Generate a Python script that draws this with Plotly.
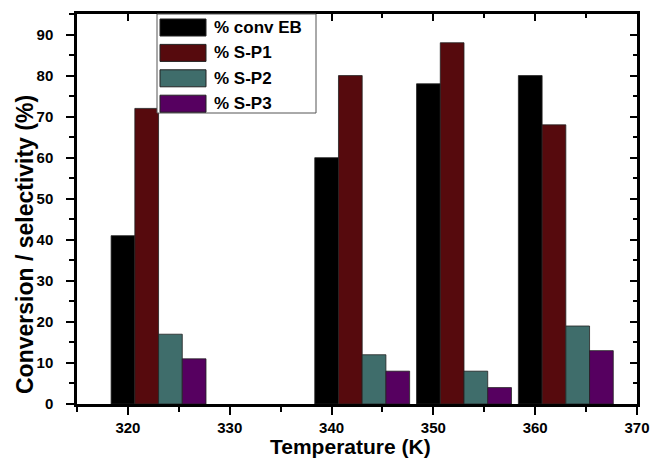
import plotly.graph_objects as go

temperatures = [320, 340, 350, 360]
series_names = ["% conv EB", "% S-P1", "% S-P2", "% S-P3"]
conv_eb = [41, 60, 78, 80]
s_p1 = [72, 80, 88, 68]
s_p2 = [17, 12, 8, 19]
s_p3 = [11, 8, 4, 13]
series_values = [conv_eb, s_p1, s_p2, s_p3]
colors = ["#000000", "#560a0d", "#3f6d6b", "#560060"]

x_ticks = [320, 330, 340, 350, 360, 370]
y_ticks = [0, 10, 20, 30, 40, 50, 60, 70, 80, 90]

FONT = "Liberation Sans, Arial, sans-serif"
bar_w = 2.33
first_offset = -1.65

fig = go.Figure()
for i, (name, vals, col) in enumerate(zip(series_names, series_values, colors)):
    fig.add_trace(go.Bar(
        x=temperatures, y=vals, name=name,
        width=bar_w, offset=first_offset + i * bar_w,
        marker=dict(color=col, line=dict(color="#222222", width=0.8)),
        showlegend=False,
    ))

axis_common = dict(showline=True, linecolor="black", linewidth=2.5,
                   showgrid=False, zeroline=False, automargin=False)

fig.update_layout(
    width=651, height=459,
    margin=dict(l=77, r=14, t=14, b=55, autoexpand=False),
    paper_bgcolor="white", plot_bgcolor="white",
    barmode="overlay",
    font=dict(family=FONT, size=15, color="black", weight="bold"),
    xaxis=dict(range=[315, 370], tickvals=x_ticks, ticks="outside", ticklen=8,
               tickwidth=2, tickcolor="black",
               minor=dict(dtick=5, tick0=0, ticks="outside", ticklen=5, tickwidth=2, tickcolor="black"),
               tickfont=dict(family=FONT, size=15, weight="bold"),
               **axis_common),
    yaxis=dict(range=[0, 95], tickvals=y_ticks, ticks="outside", ticklen=8,
               tickwidth=2, tickcolor="black",
               minor=dict(dtick=5, tick0=0, ticks="outside", ticklen=5, tickwidth=2, tickcolor="black"),
               tickfont=dict(family=FONT, size=15, weight="bold"), ticklabelstandoff=10,
               **axis_common),
    xaxis2=dict(range=[315, 370], overlaying="x", side="top", anchor="y",
                tickvals=x_ticks, ticks="inside", ticklen=7, tickwidth=2, tickcolor="black",
                minor=dict(dtick=5, tick0=0, ticks="inside", ticklen=4, tickwidth=2, tickcolor="black"),
                showticklabels=False, **axis_common),
    yaxis2=dict(range=[0, 95], overlaying="y", side="right", anchor="x",
                tickvals=y_ticks, ticks="inside", ticklen=7, tickwidth=2, tickcolor="black",
                minor=dict(dtick=5, tick0=0, ticks="inside", ticklen=4, tickwidth=2, tickcolor="black"),
                showticklabels=False, **axis_common),
)

# invisible helper trace so the mirrored axes get drawn
fig.add_trace(go.Scatter(x=[None], y=[None], xaxis="x2", yaxis="y2",
                         showlegend=False, hoverinfo="skip"))

# axis titles
fig.add_annotation(text="Temperature (K)", xref="paper", yref="paper",
                   x=0.4875, y=-0.108, showarrow=False, xanchor="center", yanchor="middle",
                   font=dict(family=FONT, size=21, weight="bold"))
fig.add_annotation(text="Conversion / selectivity (%)", xref="paper", yref="paper",
                   x=-0.093, y=0.41, showarrow=False, textangle=-90,
                   xanchor="center", yanchor="middle",
                   font=dict(family=FONT, size=23, weight="bold"))

# legend box (paper coordinates: plot area 560 x 390 px)
PW, PH = 560.0, 390.0
def px_x(p):
    return (p - 77) / PW
def px_y(p):
    return (404 - p) / PH

fig.add_shape(type="rect", xref="paper", yref="paper",
              x0=px_x(157), x1=px_x(316), y0=px_y(113), y1=px_y(14),
              line=dict(color="#555555", width=1), fillcolor="white", layer="above")
for i, (name, col) in enumerate(zip(series_names, colors)):
    top = 19 + i * 25.4
    fig.add_shape(type="rect", xref="paper", yref="paper",
                  x0=px_x(160), x1=px_x(206), y0=px_y(top + 17), y1=px_y(top),
                  line=dict(color="#222222", width=1), fillcolor=col, layer="above")
    fig.add_annotation(text=name, xref="paper", yref="paper",
                       x=px_x(212), y=px_y(top + 8.5), showarrow=False,
                       xanchor="left", yanchor="middle",
                       font=dict(family=FONT, size=17, weight="bold"))

fig.write_html("out.html")
